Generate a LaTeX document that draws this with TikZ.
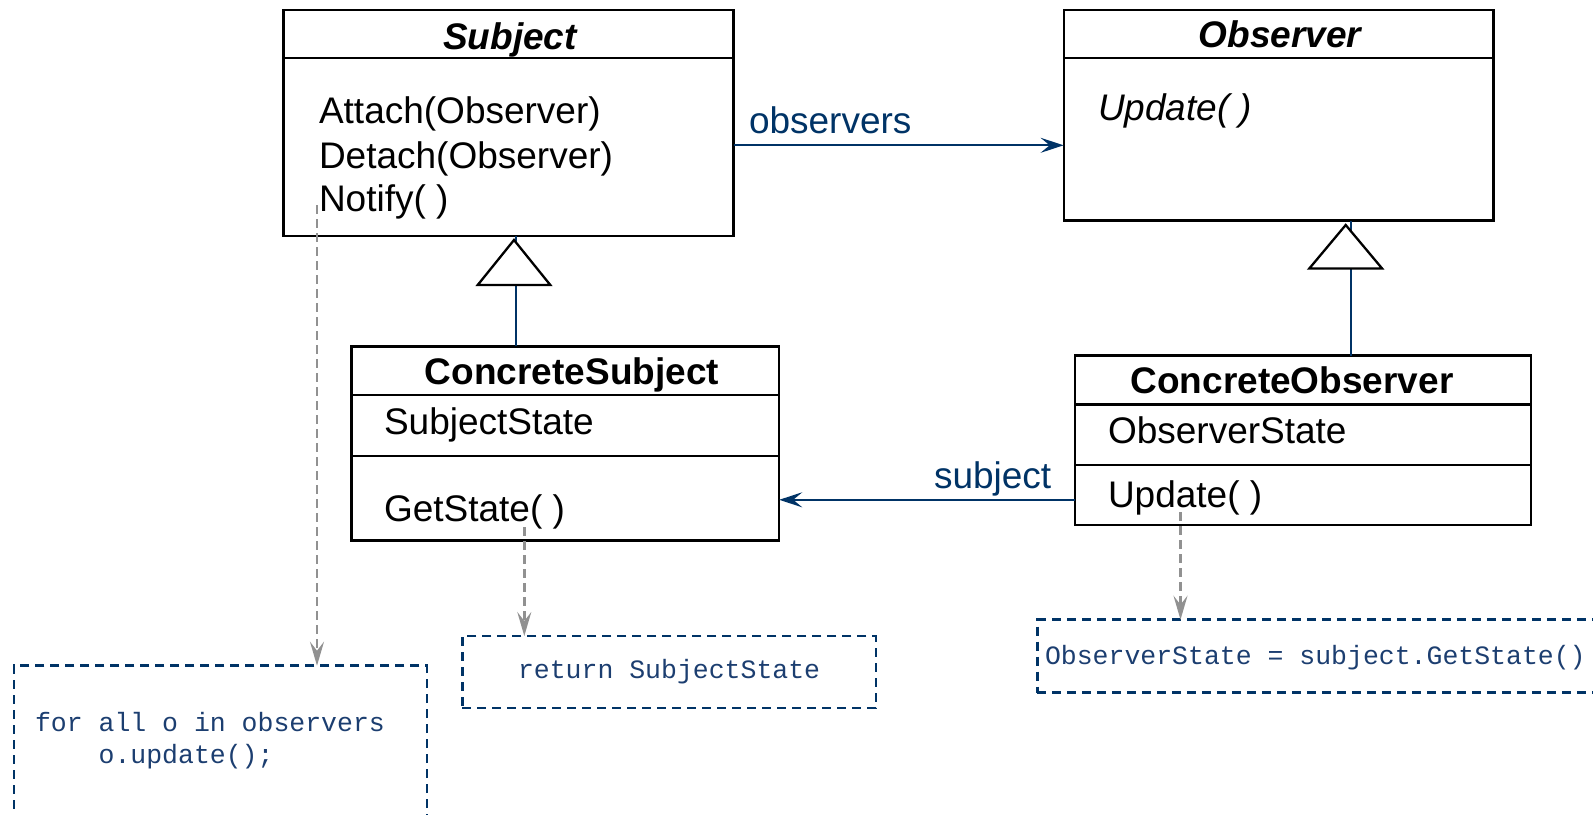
\documentclass[tikz,border=0pt]{standalone}
\usepackage{fontspec}
\setmainfont{Liberation Sans}
\setmonofont{Liberation Mono}
\usetikzlibrary{arrows.meta}
\definecolor{navy}{RGB}{0,51,102}
\definecolor{codeblue}{RGB}{28,62,112}
\definecolor{dashgray}{RGB}{145,145,145}

\begin{document}
\begin{tikzpicture}[x=1pt,y=-1pt,
  every node/.style={inner sep=0pt,outer sep=0pt},
  classbox/.style={draw=black,line width=2.3pt,fill=white,rectangle},
  divider/.style={draw=black,line width=2.3pt},
  uml/.style={font=\fontsize{37}{44}\selectfont,anchor=base west},
  umltitle/.style={font=\fontsize{37}{44}\selectfont\bfseries,anchor=base},
  rolelabel/.style={font=\fontsize{37}{44}\selectfont,text=navy,anchor=base west},
  assoc/.style={draw=navy,line width=2.3pt,-{Stealth[length=23pt,width=15pt,inset=9pt]}},
  generalise/.style={draw=navy,line width=2.3pt},
  hollowtri/.style={draw=black,line width=2.3pt,fill=white,line join=miter},
  noteline/.style={draw=dashgray,line width=2.4pt,dash pattern=on 9pt off 5pt,
    -{Stealth[length=24pt,width=14pt,inset=9pt,fill=dashgray]}},
  notebox/.style={draw=navy,line width=2.6pt,dash pattern=on 9pt off 6pt,rectangle},
  code/.style={font=\fontsize{26.5}{31.6}\selectfont\ttfamily,text=codeblue,anchor=base west}
]
\useasboundingbox (0,0) rectangle (1593,814);
\clip (0,0) rectangle (1593,814);

% class boxes
\node[classbox,minimum width=450.1pt,minimum height=225.5pt] (subj) at (508.5,123) {};
\node[classbox,minimum width=429.7pt,minimum height=210.3pt] (obs) at (1278.5,115.35) {};
\node[classbox,minimum width=427.7pt,minimum height=194.1pt] (csubj) at (565.35,443.45) {};
\node[classbox,minimum width=456.1pt,minimum height=169.6pt] (cobs) at (1302.95,440.4) {};

% compartment dividers
\draw[divider] (subj.west |- 0,57.9) -- (subj.east |- 0,57.9);
\draw[divider] (obs.west |- 0,57.9) -- (obs.east |- 0,57.9);
\draw[divider] (csubj.west |- 0,395.2) -- (csubj.east |- 0,395.2);
\draw[divider] (csubj.west |- 0,456.2) -- (csubj.east |- 0,456.2);
\draw[divider] (cobs.west |- 0,404.4) -- (cobs.east |- 0,404.4);
\draw[divider] (cobs.west |- 0,465.3) -- (cobs.east |- 0,465.3);

% Subject
\node[umltitle] (subjname) at (510,49.8) {\itshape Subject};
\node[uml] (attach) at (319,123) {Attach(Observer)};
\node[uml] (detach) at (319,168) {Detach(Observer)};
\node[uml] (notify) at (319,211.5) {Notify( )};

% Observer
\node[umltitle] (obsname) at (1280,47) {\itshape Observer};
\node[uml] (obsupdate) at (1098,120) {\itshape Update( )};

% ConcreteSubject
\node[umltitle] (csubjname) at (572,384) {ConcreteSubject};
\node[uml] (substate) at (384,434) {SubjectState};
\node[uml] (getstate) at (384,521) {GetState( )};

% ConcreteObserver
\node[umltitle] (cobsname) at (1292,393.5) {ConcreteObserver};
\node[uml] (obsstate) at (1108,443.5) {ObserverState};
\node[uml] (cobsupdate) at (1108,507) {Update( )};

% associations
\coordinate (obsrow) at (0,145.3);
\draw[assoc] (subj.east |- obsrow) -- (obs.west |- obsrow);
\node[rolelabel] (obslabel) at (749,133) {observers};

\coordinate (subrow) at (0,499.8);
\draw[assoc] (cobs.west |- subrow) -- (csubj.east |- subrow);
\node[rolelabel] (sublabel) at (934,488) {subject};

% generalisations
\coordinate (genA) at (516,0);
\draw[generalise] (csubj.north -| genA) -- (subj.south -| genA);
\draw[hollowtri] (514,240) -- (477.7,285) -- (550.3,285) -- cycle;

\coordinate (genB) at (1351,0);
\draw[generalise] (cobs.north -| genB) -- (obs.south -| genB);
\draw[hollowtri] (1345.7,225) -- (1309.3,268.5) -- (1382.1,268.5) -- cycle;

% notes
\node[notebox,minimum width=413pt,minimum height=194.3pt] (noteA) at (220.5,762.85) {};
\node[code] (noteAl1) at (35,731.7) {for all o in observers};
\node[code] (noteAl2) at (98.6,763.3) {o.update();};

\node[notebox,minimum width=413.5pt,minimum height=72pt] (noteB) at (669.05,672) {};
\node[code] (noteBl1) at (518,678.7) {return SubjectState};

\node[notebox,minimum width=612.7pt,minimum height=72.8pt] (noteC) at (1343.65,656.1) {};
\node[code] (noteCl1) at (1045,664) {ObserverState = subject.GetState()};

% note anchors
\coordinate (notifyend) at (317,205);
\coordinate (getstateend) at (524.3,527);
\coordinate (updateend) at (1180.5,512);
\draw[noteline] (notifyend) -- (noteA.north -| notifyend);
\draw[noteline] (getstateend) -- (noteB.north -| getstateend);
\draw[noteline] (updateend) -- (noteC.north -| updateend);
\end{tikzpicture}
\end{document}
